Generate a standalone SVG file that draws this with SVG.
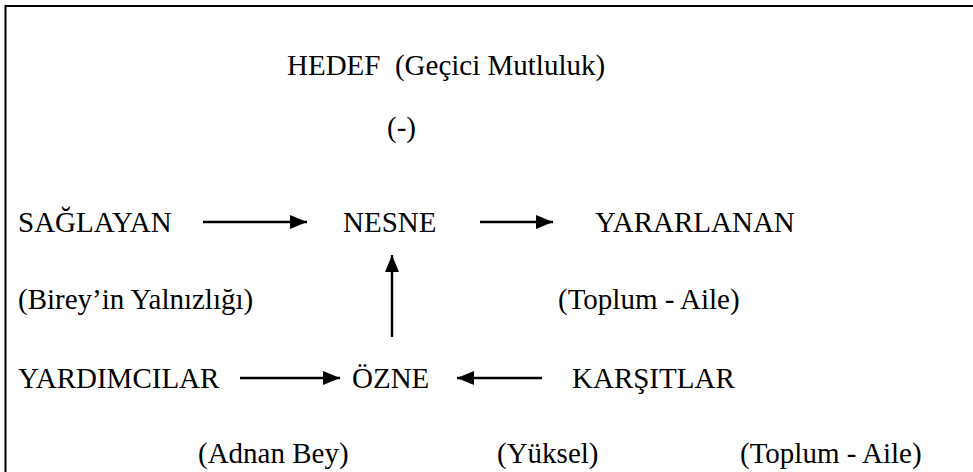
<svg xmlns="http://www.w3.org/2000/svg" width="973" height="472" viewBox="0 0 973 472">
  <style>
    .t { font-family: 'Liberation Serif', serif; font-size: 29px; fill: #000; }
    .conn { stroke: #000; stroke-width: 2.4; fill: none; }
    .frame { stroke: #000; stroke-width: 2; fill: none; }
  </style>
  <defs>
    <marker id="ah" markerUnits="userSpaceOnUse" markerWidth="18" markerHeight="14" refX="17" refY="7" orient="auto">
      <path d="M0,0 L17,7 L0,14 z" fill="#000"/>
    </marker>
  </defs>
  <rect width="973" height="472" fill="#fff"/>
  <path class="frame" d="M5.5,472 V6 H973"/>

  <g id="hedef"><text class="t" x="287" y="75" xml:space="preserve">HEDEF  (Geçici Mutluluk)</text></g>
  <g id="eksi"><text class="t" x="387" y="137">(-)</text></g>

  <g id="saglayan"><text class="t" x="18" y="232">SAĞLAYAN</text></g>
  <g id="nesne"><text class="t" x="343" y="232">NESNE</text></g>
  <g id="yararlanan"><text class="t" x="595" y="232">YARARLANAN</text></g>

  <g id="saglayan-aciklama"><text class="t" x="18" y="309">(Birey’in Yalnızlığı)</text></g>
  <g id="yararlanan-aciklama"><text class="t" x="558" y="309">(Toplum - Aile)</text></g>

  <g id="yardimcilar"><text class="t" x="18" y="388">YARDIMCILAR</text></g>
  <g id="ozne"><text class="t" x="352" y="388">ÖZNE</text></g>
  <g id="karsitlar"><text class="t" x="572" y="388">KARŞITLAR</text></g>

  <g id="yardimcilar-aciklama"><text class="t" x="198" y="463">(Adnan Bey)</text></g>
  <g id="ozne-aciklama"><text class="t" x="497" y="463">(Yüksel)</text></g>
  <g id="karsitlar-aciklama"><text class="t" x="740" y="463">(Toplum - Aile)</text></g>

  <g id="connectors">
    <line class="conn" x1="203" y1="222" x2="307" y2="222" marker-end="url(#ah)"/>
    <line class="conn" x1="480" y1="222" x2="553" y2="222" marker-end="url(#ah)"/>
    <line class="conn" x1="392" y1="337" x2="392" y2="255" marker-end="url(#ah)"/>
    <line class="conn" x1="240" y1="378" x2="340" y2="378" marker-end="url(#ah)"/>
    <line class="conn" x1="542" y1="378" x2="457" y2="378" marker-end="url(#ah)"/>
  </g>
</svg>
